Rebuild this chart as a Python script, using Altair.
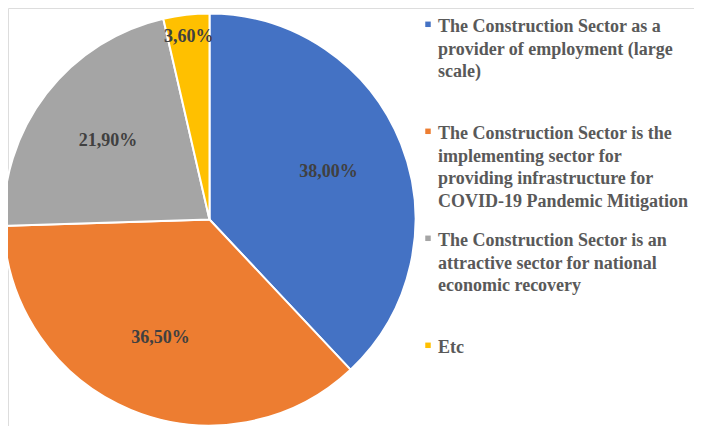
import altair as alt
import pandas as pd

categories = [
    "The Construction Sector as a|provider of employment (large|scale)",
    "The Construction Sector is the|implementing sector for|providing infrastructure for|COVID-19 Pandemic Mitigation",
    "The Construction Sector is an|attractive sector for national|economic recovery",
    "Etc",
]
values = [38.0, 36.5, 21.9, 3.6]
colors = ["#4472C4", "#ED7D31", "#A5A5A5", "#FFC000"]

df = pd.DataFrame({
    "category": categories,
    "value": values,
    "order": list(range(len(values))),
    "label": [f"{v:.2f}%".replace(".", ",") for v in values],
})

CX, CY, R = 201.5, 211.5, 206

pie = alt.Chart(df).mark_arc(radius=R, stroke="white", strokeWidth=2).encode(
    theta=alt.Theta("value:Q", stack=True),
    order=alt.Order("order:Q", sort="ascending"),
    color=alt.Color(
        "category:N",
        scale=alt.Scale(domain=categories, range=colors),
        sort=categories,
        legend=alt.Legend(
            title=None,
            orient="none",
            legendX=411,
            legendY=1,
            labelExpr="split(datum.label, '|')",
            labelFont="Liberation Serif",
            labelFontWeight="bold",
            labelFontSize=18,
            labelColor="#595959",
            labelLimit=400,
            labelBaseline="top",
            labelOffset=1,
            symbolType="M-1,1.3L1,1.3L1,3.3L-1,3.3Z",
            symbolSize=30,
            symbolStrokeWidth=0,
            gridAlign="all",
            rowPadding=12,
            padding=0,
        ),
    ),
    x=alt.value(CX),
    y=alt.value(CY),
)

lab_base = alt.Chart(df).transform_window(
    cum="sum(value)", sort=[alt.SortField("order")], frame=[None, 0]
).transform_calculate(mid="datum.cum - datum.value / 2")

txt_style = dict(font="Liberation Serif", fontWeight="bold", fontSize=18,
                 color="#404040", align="center", baseline="middle")
enc = dict(theta=alt.Theta("mid:Q", stack=None), text="label:N",
           x=alt.value(CX), y=alt.value(CY))

labels_in = lab_base.transform_filter("datum.value >= 5").mark_text(radius=128, **txt_style).encode(**enc)
labels_out = lab_base.transform_filter("datum.value < 5").mark_text(radius=184, **txt_style).encode(**enc)

chart = (pie + labels_in + labels_out).properties(
    width=686, height=418, padding=0, autosize=alt.AutoSizeParams(type="none")
).configure_view(stroke=None).configure(
    background="white",
    style={"guide-label": {"lineHeight": 22.5}},
)

chart.save("out.html", embed_options={"renderer": "svg", "actions": False})
